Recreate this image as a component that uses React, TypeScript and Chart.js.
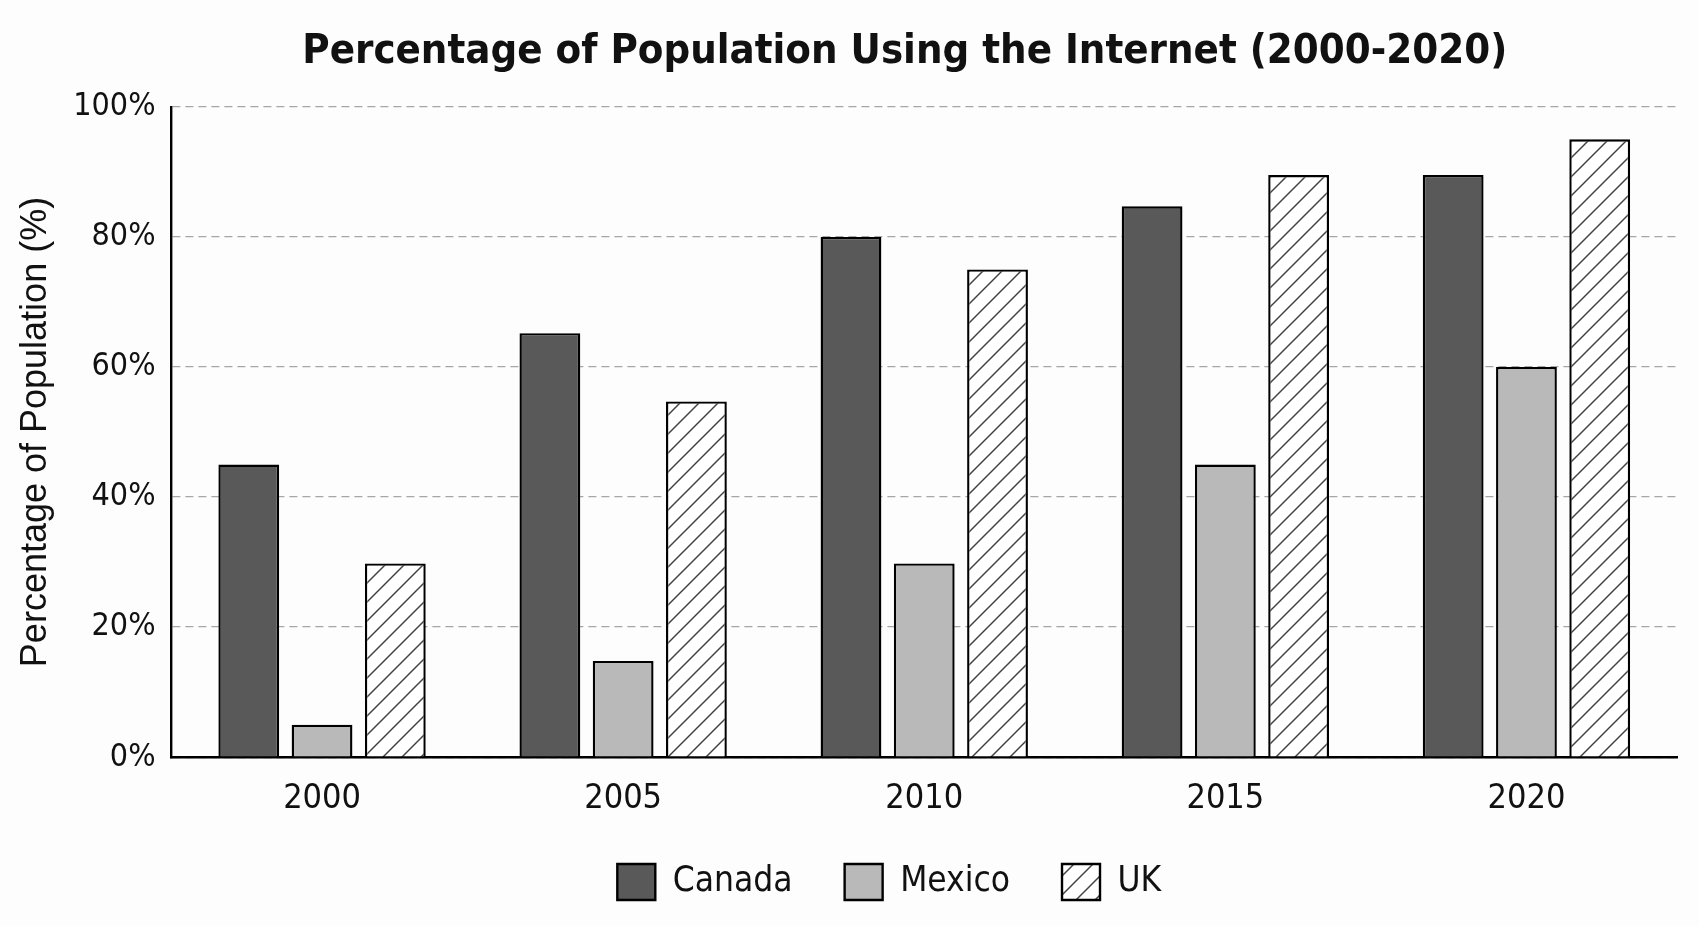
import React, { useEffect, useRef } from "react";
import { Chart, registerables } from "chart.js";

Chart.register(...registerables);

const years = ["2000", "2005", "2010", "2015", "2020"];
const canada = [45, 65.2, 80, 84.7, 89.5];
const mexico = [5, 14.8, 29.8, 45, 60];
const uk = [29.8, 54.7, 75, 89.5, 95];
const yTicks = [0, 20, 40, 60, 80, 100];
const legendSpacing = ["   ", "   ", "       "];
const titleText = "Percentage of Population Using the Internet (2000-2020)";

const NARROW = '"Liberation Sans Narrow", "DejaVu Sans Condensed", "Liberation Sans", sans-serif';
const REGULAR = '"Liberation Sans", Arial, sans-serif';

function makeHatch(): CanvasPattern | string {
  const s = 19;
  const c = document.createElement("canvas");
  c.width = s;
  c.height = s;
  const g = c.getContext("2d");
  if (!g) return "#fff";
  g.fillStyle = "#ffffff";
  g.fillRect(0, 0, s, s);
  g.strokeStyle = "#444444";
  g.lineWidth = 1.5;
  g.beginPath();
  g.moveTo(-2, s + 2);
  g.lineTo(s + 2, -2);
  g.moveTo(-2, 2);
  g.lineTo(2, -2);
  g.moveTo(s - 2, s + 2);
  g.lineTo(s + 2, s - 2);
  g.stroke();
  const p = g.createPattern(c, "repeat");
  return p || "#fff";
}

export default function App() {
  const ref = useRef<HTMLCanvasElement | null>(null);

  useEffect(() => {
    if (!ref.current) return;
    const hatch = makeHatch();
    const common = {
      borderColor: "#000000",
      borderWidth: 2.4,
      categoryPercentage: 0.73,
      barPercentage: 0.83,
    };
    const chart = new Chart(ref.current, {
      type: "bar",
      data: {
        labels: years,
        datasets: [
          { label: "Canada", data: canada, backgroundColor: "#595959", ...common },
          { label: "Mexico", data: mexico, backgroundColor: "#b9b9b9", ...common },
          { label: "UK", data: uk, backgroundColor: hatch as any, ...common },
        ],
      },
      options: {
        animation: false,
        responsive: true,
        maintainAspectRatio: false,
        layout: { padding: { left: 14, right: 22, top: 0, bottom: 16 } },
        plugins: {
          title: {
            display: true,
            fullSize: false,
            text: titleText + "   ",
            color: "#111111",
            font: { family: NARROW, size: 41.5, weight: "bold" },
            padding: { top: 27, bottom: 30 },
          },
          legend: {
            position: "bottom",
            fullSize: false,
            labels: {
              color: "#111111",
              font: { family: NARROW, size: 35 },
              boxWidth: 38,
              boxHeight: 36,
              padding: 22,
              generateLabels: (ch: any) => {
                const items = Chart.defaults.plugins.legend.labels.generateLabels(ch);
                return items.map((it: any, i: number) => ({ ...it, text: it.text + legendSpacing[i] }));
              },
            },
          },
          tooltip: { enabled: false },
        },
        scales: {
          x: {
            grid: { display: false, drawTicks: false },
            border: { display: true, color: "#000000", width: 2.4 },
            ticks: {
              color: "#111111",
              font: { family: NARROW, size: 34 },
              padding: 22,
            },
          },
          y: {
            min: 0,
            max: 100,
            afterBuildTicks: (axis: any) => {
              axis.ticks = yTicks.map((v) => ({ value: v }));
            },
            grid: {
              color: "#a6a6a6",
              lineWidth: 1.3,
              drawTicks: false,
            },
            border: { display: true, color: "#000000", width: 2.4, dash: [8, 5] },
            ticks: {
              color: "#111111",
              font: { family: NARROW, size: 32 },
              padding: 16,
              callback: (v: any) => v + "%",
            },
            title: {
              display: true,
              text: "Percentage of Population (%)",
              color: "#111111",
              font: { family: REGULAR, size: 36 },
              padding: { top: 0, bottom: 0 },
            },
          },
        },
      },
    });
    return () => chart.destroy();
  }, []);

  return (
    <div style={{ position: "fixed", left: 0, top: 0, width: 1699, height: 926, background: "#fdfdfd" }}>
      <canvas ref={ref} />
    </div>
  );
}
